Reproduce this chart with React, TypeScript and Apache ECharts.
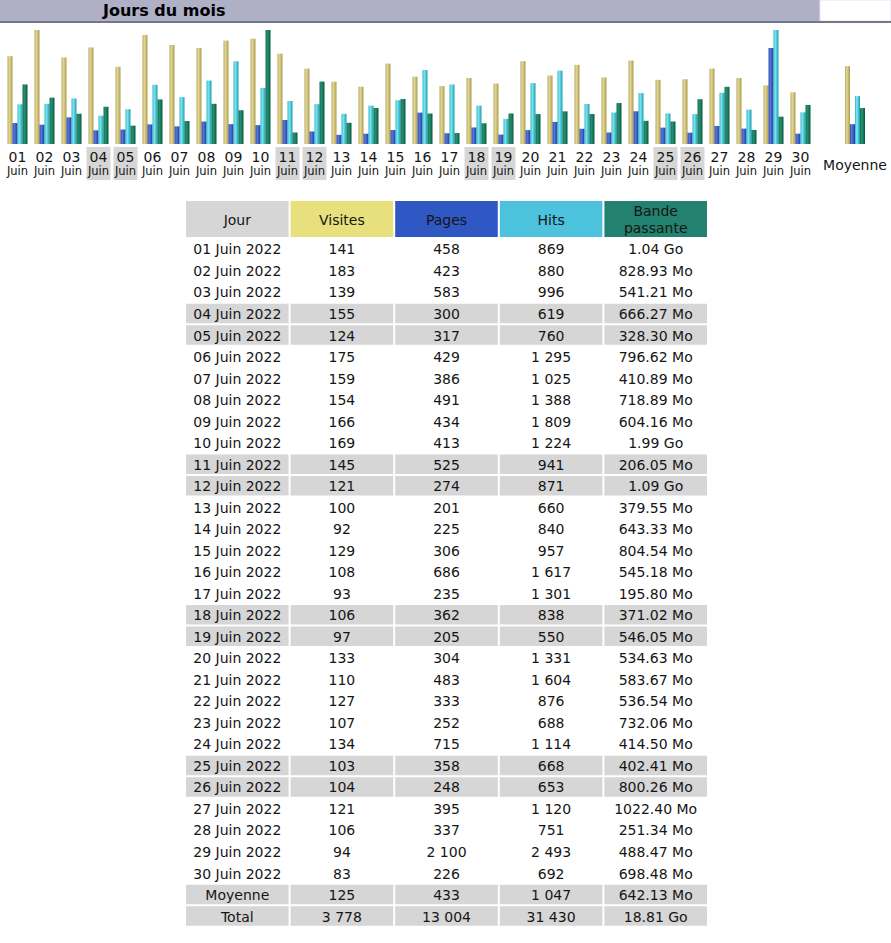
import React, { useEffect, useRef } from "react";
import * as echarts from "echarts";

const days = ["01","02","03","04","05","06","07","08","09","10","11","12","13","14","15","16","17","18","19","20","21","22","23","24","25","26","27","28","29","30"];
const monthLabel = "Juin";
const year = 2022;
const visits = [141,183,139,155,124,175,159,154,166,169,145,121,100,92,129,108,93,106,97,133,110,127,107,134,103,104,121,106,94,83];
const pages = [458,423,583,300,317,429,386,491,434,413,525,274,201,225,306,686,235,362,205,304,483,333,252,715,358,248,395,337,2100,226];
const hits = [869,880,996,619,760,1295,1025,1388,1809,1224,941,871,660,840,957,1617,1301,838,550,1331,1604,876,688,1114,668,653,1120,751,2493,692];
// bandwidth in Mo (1 Go = 1024 Mo)
const bandwidthMo = [1064.96,828.93,541.21,666.27,328.30,796.62,410.89,718.89,604.16,2037.76,206.05,1116.16,379.55,643.33,804.54,545.18,195.80,371.02,546.05,534.63,583.67,536.54,732.06,414.50,402.41,800.26,1022.40,251.34,488.47,698.48];
const averages = { visits: 125, pages: 433, hits: 1047, bandwidthMo: 642.13 };
const totals = { visits: 3778, pages: 13004, hits: 31430, bandwidthMo: 19261.44 };
const headers = ["Jour", "Visites", "Pages", "Hits", "Bande\npassante"];

const FONT = '"DejaVu Sans", Verdana, sans-serif';

function fmtInt(n: number): string {
  return String(n).replace(/\B(?=(\d{3})+(?!\d))/g, " ");
}
function fmtBw(mo: number): string {
  if (mo >= 1024) return (mo / 1024).toFixed(2) + " Go";
  return mo.toFixed(2) + " Mo";
}
function isWeekend(d: string): boolean {
  const wd = new Date(year, 5, parseInt(d, 10)).getDay();
  return wd === 0 || wd === 6;
}

function grad(stops: string[]) {
  return new echarts.graphic.LinearGradient(0, 0, 1, 0, stops.map((c, i) => ({ offset: i / (stops.length - 1), color: c })));
}
const colVisits = () => grad(["#b3a45c", "#e2d896", "#cdbd72", "#a8984e"]);
const colPages = () => grad(["#2a48a8", "#5a7ad8", "#3558c4", "#22409a"]);
const colHits = () => grad(["#2ab0c0", "#86e6f0", "#44c8d8", "#2298a8"]);
const colBw = () => grad(["#0c6a50", "#2a9070", "#137a5c", "#08553f"]);

export default function App() {
  const ref = useRef<HTMLDivElement>(null);
  useEffect(() => {
    if (!ref.current) return;
    const chart = echarts.init(ref.current, undefined, { renderer: "svg" });
    const maxV = Math.max(...visits);
    const maxH = Math.max(...hits);
    const maxB = Math.max(...bandwidthMo);
    const GRAY = "#d6d6d6";

    const rowLabels = days.map((d) => `${d} ${monthLabel} ${year}`).concat(["Moyenne", "Total"]);
    const rowBg = days.map((d) => (isWeekend(d) ? GRAY : "rgba(0,0,0,0)")).concat([GRAY, GRAY]);
    const colValues: string[][] = [
      rowLabels,
      visits.map(fmtInt).concat([fmtInt(averages.visits), fmtInt(totals.visits)]),
      pages.map(fmtInt).concat([fmtInt(averages.pages), fmtInt(totals.pages)]),
      hits.map(fmtInt).concat([fmtInt(averages.hits), fmtInt(totals.hits)]),
      bandwidthMo.map(fmtBw).concat([fmtBw(averages.bandwidthMo), fmtBw(totals.bandwidthMo)]),
    ];
    const cells: { text: string; bg: string }[] = [];
    const cellData: number[][] = [];
    for (let r = 0; r < rowLabels.length; r++) {
      for (let c = 0; c < 5; c++) {
        cells.push({ text: colValues[c][r], bg: rowBg[r] });
        cellData.push([c, r]);
      }
    }
    const headerBg = ["#d6d6d6", "#e8e07c", "#3058c4", "#4cc2dc", "#22826f"];
    const headerData = headers.map((_, i) => [i, 0]);

    const cellRender = (getCell: (i: number) => { text: string; bg: string }, lh: number) => (params: any, api: any) => {
      const p = api.coord([api.value(0), api.value(1)]);
      const s = api.size([1, 1]);
      const cell = getCell(params.dataIndex);
      return {
        type: "group",
        children: [
          { type: "rect", shape: { x: p[0] - s[0] / 2 + 1, y: p[1] - s[1] / 2 + 1, width: s[0] - 2, height: s[1] - 2 }, style: { fill: cell.bg } },
          { type: "text", style: { text: cell.text, x: p[0], y: p[1] + 0.5, align: "center", verticalAlign: "middle", fill: "#151515", fontSize: 14, fontFamily: FONT, lineHeight: lh } },
        ],
      };
    };

    const hidden = { show: false };
    const grids = [
      { left: 4, top: 30, width: 810, height: 114 },
      { left: 841.5, top: 30, width: 27, height: 114 },
      { left: 4, top: 147, width: 810, height: 33 },
      { left: 185, top: 200, width: 523, height: 38 },
      { left: 185, top: 238.2, width: 523, height: 688.6 },
    ].map((g) => ({ ...g, containLabel: false, outerBoundsMode: "none" }));

    const option: any = {
      animation: false,
      textStyle: { fontFamily: FONT },
      grid: grids,
      xAxis: [
        { type: "category", gridIndex: 0, data: days, ...hidden },
        { type: "category", gridIndex: 1, data: ["Moyenne"], axisLine: { show: false }, axisTick: { show: false }, splitLine: { show: false },
          axisLabel: { show: true, margin: 14, fontSize: 14, color: "#151515", fontFamily: FONT } },
        { type: "category", gridIndex: 2, data: days, ...hidden },
        { type: "category", gridIndex: 3, data: [0, 1, 2, 3, 4], ...hidden },
        { type: "category", gridIndex: 4, data: [0, 1, 2, 3, 4], ...hidden },
      ],
      yAxis: [
        { type: "value", gridIndex: 0, min: 0, max: maxV, ...hidden },
        { type: "value", gridIndex: 0, min: 0, max: maxH, ...hidden },
        { type: "value", gridIndex: 0, min: 0, max: maxB, ...hidden },
        { type: "value", gridIndex: 1, min: 0, max: maxV, ...hidden },
        { type: "value", gridIndex: 1, min: 0, max: maxH, ...hidden },
        { type: "value", gridIndex: 1, min: 0, max: maxB, ...hidden },
        { type: "value", gridIndex: 2, min: 0, max: 1, ...hidden },
        { type: "category", gridIndex: 3, data: ["h"], inverse: true, ...hidden },
        { type: "category", gridIndex: 4, data: rowLabels.map((_, i) => i), inverse: true, ...hidden },
      ],
      graphic: [
        { type: "rect", shape: { x: 0, y: 0, width: 820, height: 21 }, style: { fill: "#afafc6" }, silent: true },
        { type: "rect", shape: { x: 820, y: 0, width: 71, height: 21 }, style: { fill: "#ffffff", stroke: "#e4e4ee", lineWidth: 1 }, silent: true },
        { type: "rect", shape: { x: 0, y: 21, width: 891, height: 2 }, style: { fill: "#76768a" }, silent: true },
        { type: "text", x: 103, y: 10, style: { text: "Jours du mois", fontSize: 16, fontWeight: "bold", fontFamily: FONT, fill: "#000", verticalAlign: "middle" }, silent: true },
      ],
      series: [
        { name: "Visites", type: "bar", xAxisIndex: 0, yAxisIndex: 0, barWidth: 5, barGap: "0%", data: visits, itemStyle: { color: colVisits() }, silent: true },
        { name: "Pages", type: "bar", xAxisIndex: 0, yAxisIndex: 1, barWidth: 5, barGap: "0%", data: pages, itemStyle: { color: colPages() }, silent: true },
        { name: "Hits", type: "bar", xAxisIndex: 0, yAxisIndex: 1, barWidth: 5, barGap: "0%", data: hits, itemStyle: { color: colHits() }, silent: true },
        { name: "Bande passante", type: "bar", xAxisIndex: 0, yAxisIndex: 2, barWidth: 5, barGap: "0%", data: bandwidthMo, itemStyle: { color: colBw() }, silent: true },
        { name: "Visites moy", type: "bar", xAxisIndex: 1, yAxisIndex: 3, barWidth: 5, barGap: "0%", data: [averages.visits], itemStyle: { color: colVisits() }, silent: true },
        { name: "Pages moy", type: "bar", xAxisIndex: 1, yAxisIndex: 4, barWidth: 5, barGap: "0%", data: [averages.pages], itemStyle: { color: colPages() }, silent: true },
        { name: "Hits moy", type: "bar", xAxisIndex: 1, yAxisIndex: 4, barWidth: 5, barGap: "0%", data: [averages.hits], itemStyle: { color: colHits() }, silent: true },
        { name: "BP moy", type: "bar", xAxisIndex: 1, yAxisIndex: 5, barWidth: 5, barGap: "0%", data: [averages.bandwidthMo], itemStyle: { color: colBw() }, silent: true },
        {
          name: "jours", type: "bar", xAxisIndex: 2, yAxisIndex: 6, barWidth: 24, silent: true,
          data: days.map((d) => ({ value: 1, itemStyle: { color: isWeekend(d) ? GRAY : "rgba(0,0,0,0)" } })),
          label: {
            show: true, position: "inside",
            formatter: (p: any) => `{d|${p.name}}\n{m|${monthLabel}}`,
            rich: {
              d: { fontSize: 14, lineHeight: 15, color: "#151515", fontFamily: FONT },
              m: { fontSize: 11.5, lineHeight: 14, color: "#151515", fontFamily: FONT },
            },
          },
        },
        { name: "entete", type: "custom", xAxisIndex: 3, yAxisIndex: 7, data: headerData, silent: true,
          renderItem: cellRender((i) => ({ text: headers[i], bg: headerBg[i] }), 17) },
        { name: "tableau", type: "custom", xAxisIndex: 4, yAxisIndex: 8, data: cellData, silent: true,
          renderItem: cellRender((i) => cells[i], 16) },
      ],
    };
    chart.setOption(option);
    return () => chart.dispose();
  }, []);
  return <div ref={ref} style={{ position: "absolute", left: 0, top: 0, width: 891, height: 943, background: "#fff" }} />;
}
